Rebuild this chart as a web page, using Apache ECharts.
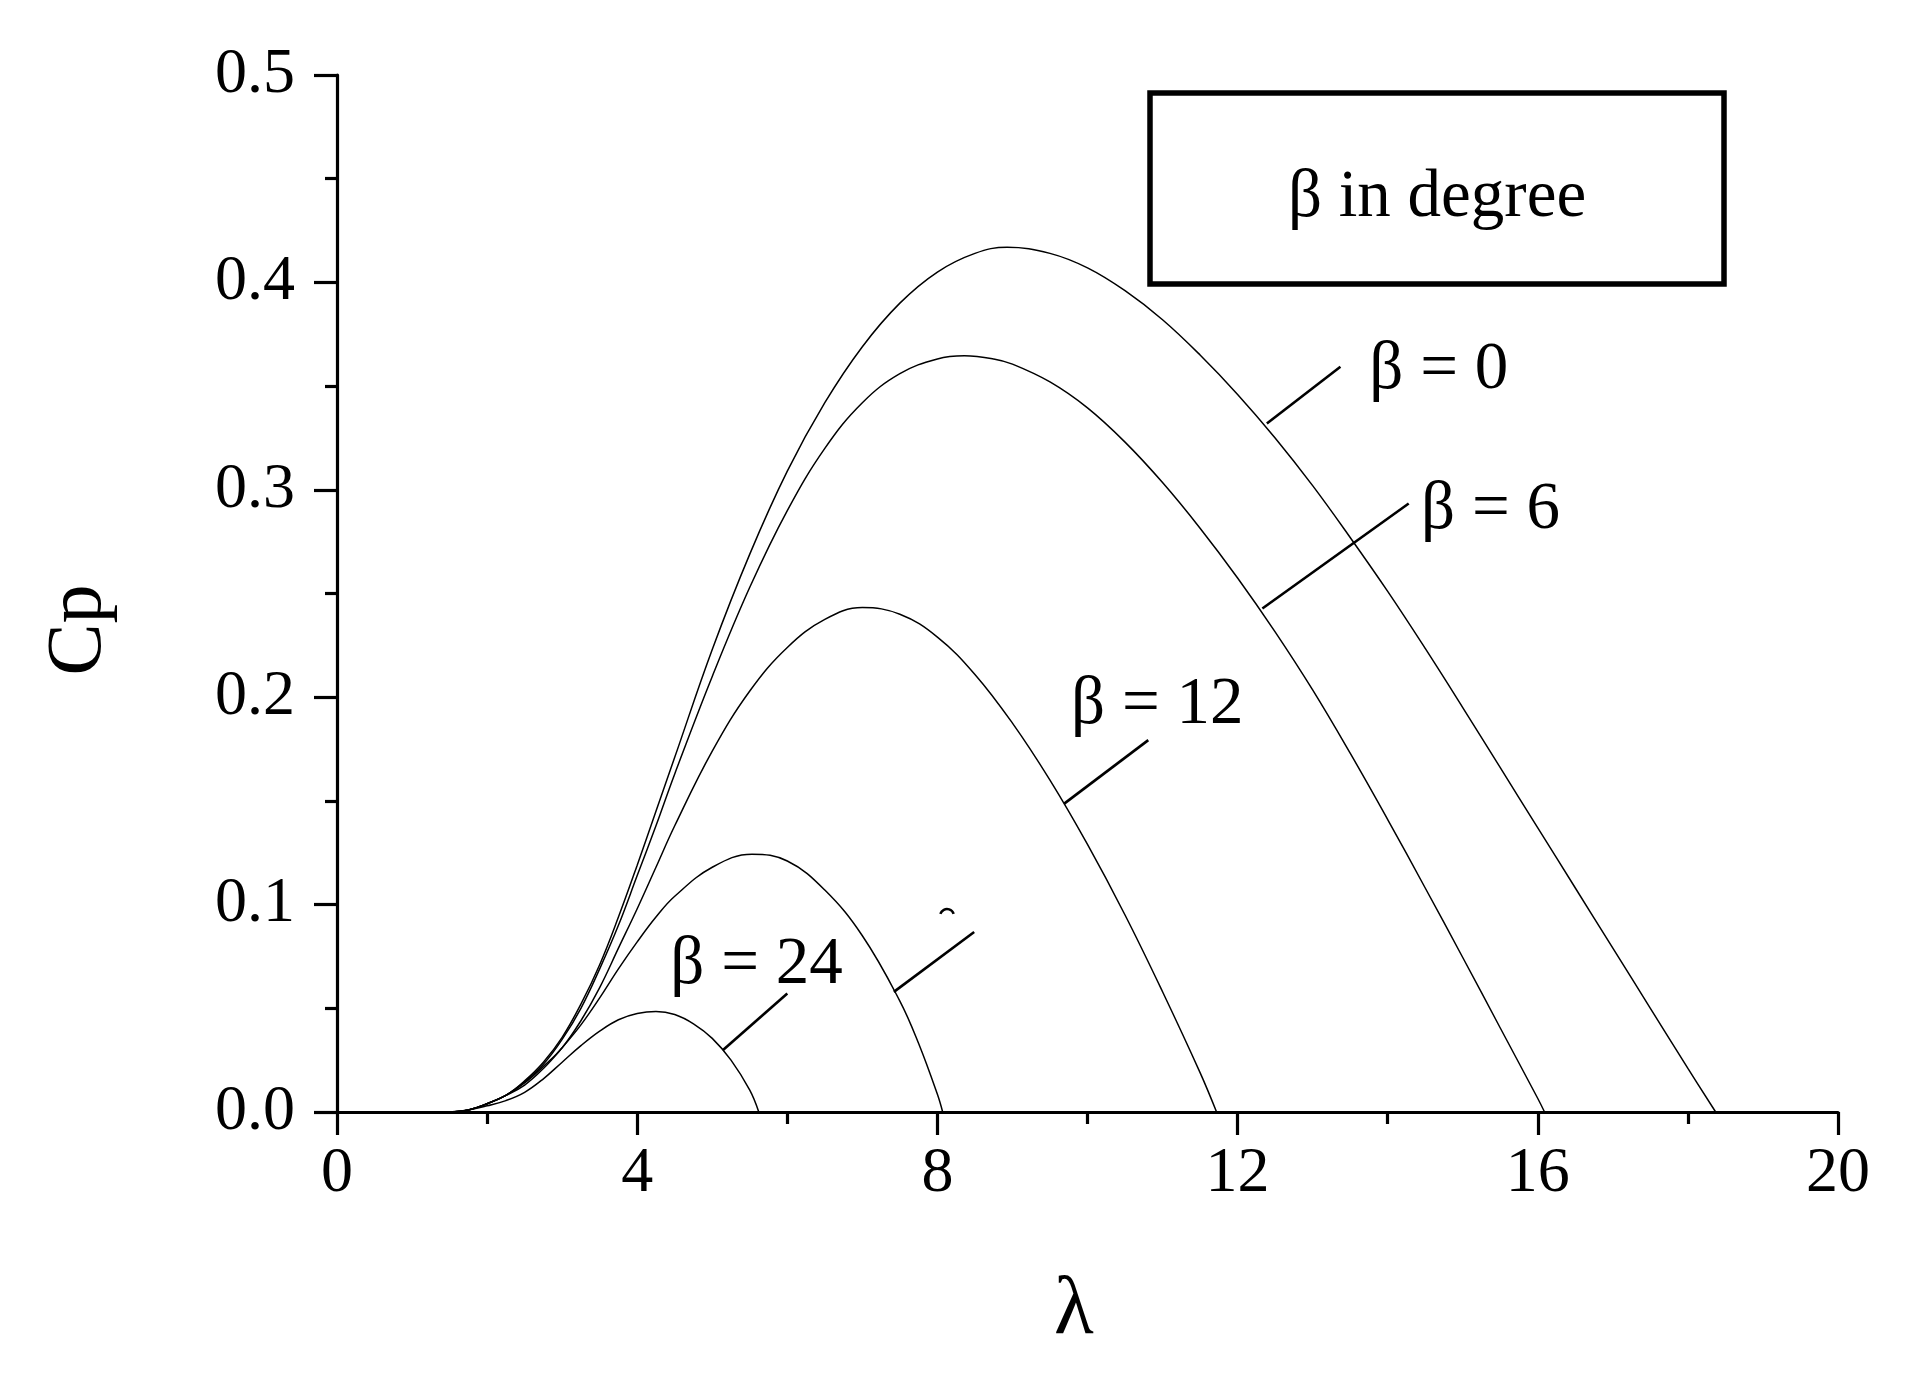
<!DOCTYPE html>
<html>
<head>
<meta charset="utf-8">
<script src="https://cdn.jsdelivr.net/npm/echarts@6/dist/echarts.min.js"></script>
<style>
html,body{margin:0;padding:0;background:#fff;}
#chart{width:1920px;height:1379px;}
</style>
</head>
<body>
<div id="chart"></div>
<script>
// ---- Data (λ, Cp) ----
const beta0 = [[1.5,0],[1.75,0.001],[2.0,0.004],[2.25,0.008],[2.5,0.015],[2.75,0.024],[3.0,0.036],[3.25,0.052],[3.5,0.071],[3.75,0.094],[4.0,0.119],[4.25,0.145],[4.5,0.171],[5.0,0.223],[5.5,0.269],[6.0,0.309],[6.5,0.342],[7.0,0.369],[7.5,0.390],[8.0,0.405],[8.5,0.414],[8.93,0.417],[9.5,0.414],[10.0,0.407],[10.5,0.396],[11.0,0.382],[11.5,0.365],[12.0,0.346],[12.5,0.325],[13.0,0.302],[13.5,0.277],[14.0,0.251],[14.5,0.2235],[15.0,0.195],[15.5,0.166],[16.0,0.137],[16.5,0.108],[17.0,0.079],[17.5,0.050],[18.0,0.021],[18.37,0]];
const beta6 = [[1.5,0],[1.75,0.001],[2.0,0.004],[2.25,0.008],[2.5,0.0145],[2.75,0.023],[3.0,0.035],[3.25,0.050],[3.5,0.069],[3.75,0.090],[4.0,0.114],[4.25,0.138],[4.5,0.163],[5.0,0.210],[5.5,0.253],[6.0,0.290],[6.5,0.320],[7.0,0.342],[7.5,0.356],[8.0,0.3631],[8.36,0.3646],[8.75,0.3631],[9.0,0.3606],[9.5,0.352],[10.0,0.3395],[10.5,0.323],[11.0,0.3035],[11.5,0.2815],[12.0,0.2575],[12.5,0.2315],[13.0,0.2035],[13.5,0.173],[14.0,0.141],[14.5,0.108],[15.0,0.0745],[15.5,0.0405],[16.0,0.0065],[16.09,0]];
const beta12 = [[1.5,0],[1.75,0.001],[2.0,0.004],[2.25,0.008],[2.5,0.014],[2.75,0.022],[3.0,0.031],[3.25,0.044],[3.5,0.060],[3.75,0.079],[4.0,0.098],[4.25,0.118],[4.5,0.138],[5.0,0.174],[5.5,0.203],[6.0,0.224],[6.5,0.2375],[7.0,0.2432],[7.5,0.240],[8.0,0.229],[8.5,0.211],[9.0,0.1875],[9.5,0.160],[10.0,0.129],[10.5,0.095],[11.0,0.058],[11.5,0.019],[11.72,0]];
const beta18 = [[1.5,0],[1.75,0.001],[2.0,0.004],[2.25,0.008],[2.5,0.013],[2.75,0.021],[3.0,0.031],[3.25,0.042],[3.5,0.055],[3.75,0.069],[4.0,0.082],[4.25,0.094],[4.5,0.104],[5.0,0.118],[5.53,0.1243],[6.0,0.121],[6.5,0.107],[7.0,0.085],[7.5,0.0535],[7.75,0.033],[8.0,0.0085],[8.07,0]];
const beta24 = [[1.5,0],[1.75,0.001],[2.0,0.003],[2.25,0.0055],[2.5,0.0095],[2.75,0.016],[3.0,0.024],[3.25,0.032],[3.5,0.039],[3.75,0.0445],[4.0,0.0475],[4.25,0.0485],[4.5,0.047],[4.75,0.0425],[5.0,0.0355],[5.25,0.025],[5.5,0.0105],[5.62,0]];

// Curve labels: [λ, Cp, text]
const curveLabels = [[14.68,0.3577,'β = 0'],[15.37,0.2902,'β = 6'],[10.93,0.1962,'β = 12'],[5.59,0.0708,'β = 24']];
// Leader lines (λ, Cp endpoints)
const leader0 = [[12.39,0.332],[13.37,0.3593]];
const leader6 = [[12.33,0.2428],[14.28,0.2934]];
const leader12 = [[9.69,0.1487],[10.81,0.1793]];
const leader18 = [[7.42,0.0579],[8.49,0.0868]];
const leader24 = [[5.14,0.0298],[6.0,0.0571]];

const xTicks = [0,4,8,12,16,20];
const yTicks = [0.0,0.1,0.2,0.3,0.4,0.5];
const xTitle = 'λ';
const yTitle = 'Cp';
const boxText = 'β in degree';

const FONT = '"Liberation Serif","Times New Roman",serif';
const chart = echarts.init(document.getElementById('chart'), null, {renderer:'canvas'});

function curve(data){
  return {type:'line', data:data, showSymbol:false, symbol:'none', smooth:0.4,
    lineStyle:{color:'#000', width:1.5}, silent:true, z:3};
}
function leader(data){
  return {type:'line', data:data, showSymbol:false, symbol:'none',
    lineStyle:{color:'#000', width:2.6}, silent:true, z:4};
}

const option = {
  backgroundColor:'#fff',
  animation:false,
  grid:{left:337, right:82, top:75, bottom:267, containLabel:false},
  xAxis:{
    type:'value', min:xTicks[0], max:xTicks[xTicks.length-1], interval:4,
    axisLine:{show:true, onZero:false, lineStyle:{color:'#000', width:3.2}},
    axisTick:{show:true, inside:false, length:23, lineStyle:{color:'#000', width:3.2}},
    minorTick:{show:true, splitNumber:2, length:12, lineStyle:{color:'#000', width:3.2}},
    axisLabel:{show:true, margin:30, color:'#000', fontFamily:FONT, fontSize:64},
    splitLine:{show:false}
  },
  yAxis:{
    type:'value', min:yTicks[0], max:yTicks[yTicks.length-1], interval:0.1,
    axisLine:{show:true, onZero:false, lineStyle:{color:'#000', width:3.2}},
    axisTick:{show:true, inside:false, length:23, lineStyle:{color:'#000', width:3.2}},
    minorTick:{show:true, splitNumber:2, length:12, lineStyle:{color:'#000', width:3.2}},
    axisLabel:{show:true, margin:42, color:'#000', fontFamily:FONT, fontSize:64,
      formatter:function(v){return v.toFixed(1);}},
    splitLine:{show:false}
  },
  series:[
    curve(beta0), curve(beta6), curve(beta12), curve(beta18), curve(beta24),
    leader(leader0), leader(leader6), leader(leader12), leader(leader18), leader(leader24),
    {type:'scatter', symbolSize:0, silent:true, z:5, itemStyle:{color:'#000'},
      data:curveLabels.map(function(d){return {value:[d[0],d[1]], name:d[2]};}),
      label:{show:true, position:'inside', formatter:'{b}', color:'#000', opacity:1,
        textBorderWidth:0, textBorderColor:'transparent', textShadowBlur:0,
        fontFamily:FONT, fontSize:67}
    }
  ],
  graphic:[
    {type:'rect', shape:{x:1150, y:93, width:574, height:191},
      style:{fill:'none', stroke:'#000', lineWidth:5.5}, z:10},
    {type:'text', x:1437, y:198, style:{text:boxText, fill:'#000', font:'67px '+FONT, align:'center', verticalAlign:'middle'}, z:10},
    {type:'text', x:80, y:630, rotation:Math.PI/2, style:{text:yTitle, fill:'#000', font:'78px '+FONT, align:'center', verticalAlign:'middle'}, z:10},
    {type:'text', x:1074, y:1311, style:{text:xTitle, fill:'#000', font:'82px '+FONT, align:'center', verticalAlign:'middle'}, z:10},
    {type:'arc', shape:{cx:947, cy:916, r:7, startAngle:Math.PI*1.1, endAngle:Math.PI*1.9},
      style:{fill:'none', stroke:'#000', lineWidth:2.5}, z:10}
  ]
};
chart.setOption(option);
</script>
</body>
</html>
